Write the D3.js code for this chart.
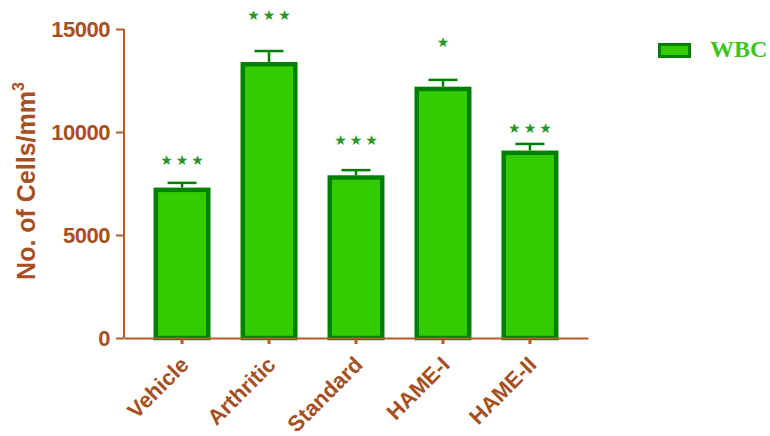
<!DOCTYPE html>
<html>
<head>
<meta charset="utf-8">
<script src="https://cdn.jsdelivr.net/npm/d3@7"></script>
<style>
  html, body { margin: 0; padding: 0; background: #fff; }
  svg { display: block; }
</style>
</head>
<body>
<svg id="chart" width="770" height="436"></svg>
<script>
// WBC counts per treatment group (mean ± SEM, cells/mm³)
const groups = ["Vehicle", "Arthritic", "Standard", "HAME-I", "HAME-II"];
const wbcMean = [7300, 13400, 7900, 12200, 9100];
const wbcSem = [230, 530, 250, 330, 320];
const significance = ["***", "***", "***", "*", "***"];
const starLevel = [8640, 15680, 9610, 14370, 10190];
const yTicks = [0, 5000, 10000, 15000];
const seriesName = "WBC";

const brown = "#a64f22";
const axisBrown = "#b45a2c";
const barFill = "#33cc00";
const barStroke = "#008000";
const starGreen = "#2a962a";

const svg = d3.select("#chart");

const x = d3.scaleBand()
  .domain(groups)
  .range([124, 588])
  .paddingInner(0.345)
  .paddingOuter(0.34);

const y = d3.scaleLinear()
  .domain([0, 15000])
  .range([338, 29]);

// Bars
const sw = 4.5;
svg.append("g").selectAll("rect")
  .data(groups)
  .join("rect")
  .attr("x", d => x(d) + sw / 2)
  .attr("width", x.bandwidth() - sw)
  .attr("y", (d, i) => y(wbcMean[i]) + sw / 2)
  .attr("height", (d, i) => y(0) - y(wbcMean[i]) - sw / 2)
  .attr("fill", barFill)
  .attr("stroke", barStroke)
  .attr("stroke-width", sw);

// Upper error bars
const eb = svg.append("g").attr("stroke", barStroke).attr("stroke-width", 2.5);
groups.forEach((g, i) => {
  const cx = x(g) + x.bandwidth() / 2;
  const top = y(wbcMean[i] + wbcSem[i]);
  eb.append("line").attr("x1", cx).attr("x2", cx)
    .attr("y1", y(wbcMean[i])).attr("y2", top);
  eb.append("line").attr("x1", cx - 14.5).attr("x2", cx + 14.5)
    .attr("y1", top).attr("y2", top);
});

// Significance stars (each asterisk drawn as a filled star glyph)
const starSpacing = 3;
svg.append("g").selectAll("text")
  .data(groups)
  .join("text")
  .attr("x", d => x(d) + x.bandwidth() / 2 + starSpacing / 2)
  .attr("y", (d, i) => y(starLevel[i]))
  .attr("dominant-baseline", "central")
  .attr("text-anchor", "middle")
  .attr("fill", starGreen)
  .attr("font-family", "DejaVu Sans, sans-serif")
  .attr("font-size", 14)
  .attr("letter-spacing", starSpacing)
  .text((d, i) => significance[i].replace(/\*/g, "\u2605"));

// Y axis
const yAxis = svg.append("g")
  .attr("transform", "translate(124,0)")
  .call(d3.axisLeft(y).tickValues(yTicks).tickSize(8).tickPadding(6).tickFormat(d3.format("d")));
yAxis.select(".domain").attr("stroke", axisBrown).attr("stroke-width", 2)
  .attr("d", `M0,${y(15000)}V${y(0)}`);
yAxis.selectAll(".tick line").attr("stroke", axisBrown).attr("stroke-width", 2);
yAxis.selectAll(".tick text")
  .attr("fill", brown)
  .attr("font-family", "Liberation Sans, Arial, sans-serif")
  .attr("font-weight", "bold")
  .attr("font-size", 22)
  .attr("letter-spacing", -0.5);

// X axis
const xAxis = svg.append("g")
  .attr("transform", `translate(0,${y(0)})`)
  .call(d3.axisBottom(x).tickSize(6).tickSizeOuter(0));
xAxis.select(".domain").attr("stroke", axisBrown).attr("stroke-width", 2);
xAxis.selectAll(".tick line").attr("stroke", axisBrown).attr("stroke-width", 3);
xAxis.selectAll(".tick text")
  .attr("fill", brown)
  .attr("font-family", "Liberation Sans, Arial, sans-serif")
  .attr("font-weight", "bold")
  .attr("font-size", 22)
  .attr("text-anchor", "end")
  .attr("y", 0)
  .attr("dy", 0)
  .attr("transform", "translate(8,28) rotate(-45)");

// Y axis title
const yTitle = svg.append("text")
  .attr("transform", "translate(35,181) rotate(-90)")
  .attr("text-anchor", "middle")
  .attr("fill", brown)
  .attr("font-family", "Liberation Sans, Arial, sans-serif")
  .attr("font-weight", "bold")
  .attr("font-size", 25);
yTitle.append("tspan").text("No. of Cells/mm");
yTitle.append("tspan").attr("font-size", 16).attr("dy", -11).text("3");

// Legend
svg.append("rect")
  .attr("x", 659.5).attr("y", 44.5).attr("width", 30).attr("height", 12)
  .attr("fill", barFill).attr("stroke", barStroke).attr("stroke-width", 3);
svg.append("text")
  .attr("x", 710).attr("y", 57)
  .attr("fill", "#3ec41e")
  .attr("font-family", "Liberation Serif, Times New Roman, serif")
  .attr("font-weight", "bold")
  .attr("font-size", 24)
  .text(seriesName);
</script>
</body>
</html>
